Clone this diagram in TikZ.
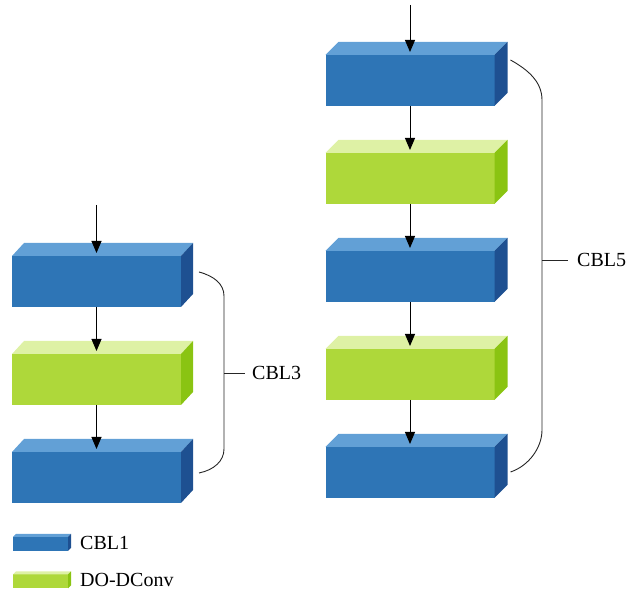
\documentclass[tikz,border=0pt]{standalone}
\usepackage{fontspec}
\setmainfont{Liberation Serif}
\usetikzlibrary{arrows.meta,calc}
\definecolor{cblfront}{RGB}{46,117,182}
\definecolor{cbltop}{RGB}{98,160,214}
\definecolor{cblside}{RGB}{30,80,145}
\definecolor{dofront}{RGB}{174,216,58}
\definecolor{dotop}{RGB}{222,241,165}
\definecolor{doside}{RGB}{138,196,18}

\tikzset{
  slab/.style={minimum width=169pt,minimum height=51pt,inner sep=0pt,outer sep=0pt,fill=#1front},
  keyslab/.style={minimum width=55pt,minimum height=14pt,inner sep=0pt,outer sep=0pt,fill=#1front},
  flow/.style={-{Triangle[length=12pt,width=10pt]},line width=1pt},
  brace/.style={line width=0.9pt,black!85},
  lbl/.style={font=\fontsize{20}{24}\selectfont,anchor=west,inner sep=0pt}
}
% top and side faces of a slab node: name, kind, dx, dy
\newcommand{\slabfaces}[4]{%
  \fill[#2top] (#1.north west) -- ++(#3,#4) -- ($(#1.north east)+(#3,#4)$) -- (#1.north east) -- cycle;
  \fill[#2side] (#1.north east) -- ++(#3,#4) -- ($(#1.south east)+(#3,#4)$) -- (#1.south east) -- cycle;
}

\begin{document}
\begin{tikzpicture}[x=1pt,y=1pt]
  \useasboundingbox (0,0) rectangle (638,594);

  % left column (CBL3)
  \foreach \i/\k in {1/cbl,2/do,3/cbl}{
    \pgfmathsetmacro{\y}{312.5-(\i-1)*98}
    \node[slab=\k] (L\i) at (96.5,\y) {};
    \slabfaces{L\i}{\k}{12}{13}
  }
  % right column (CBL5)
  \foreach \i/\k in {1/cbl,2/do,3/cbl,4/do,5/cbl}{
    \pgfmathsetmacro{\y}{513.5-(\i-1)*98}
    \node[slab=\k] (R\i) at (410,\y) {};
    \slabfaces{R\i}{\k}{13}{13}
  }

  \coordinate (inL) at (96.5,389);
  \coordinate (inR) at (410,589);
  \draw[flow] (inL) -- ($(L1.north)+(0,3)$);
  \draw[flow] (inR) -- ($(R1.north)+(0,3)$);
  \foreach \a/\b in {L1/L2,L2/L3,R1/R2,R2/R3,R3/R4,R4/R5}
    \draw[flow] (\a.south) -- ($(\b.north)+(0,3)$);

  % braces
  \draw[brace] ($(L1.east)+(18,9.5)$) .. controls +(15,-4) and +(0,12) .. (224,298)
    -- (224,145) .. controls +(0,-12) and +(15,3) .. ($(L3.east)+(18,4.5)$);
  \draw[brace] (224,221) -- (245,221);
  \node[lbl] (cbl3) at (252,221) {CBL3};

  \draw[brace] ($(R1.east)+(16,20.5)$) .. controls +(18,-10) and +(0,18) .. (542,494)
    -- (542,164) .. controls +(0,-18) and +(18,6) .. ($(R5.east)+(16,0.5)$);
  \draw[brace] (542,334) -- (568,334);
  \node[lbl] (cbl5) at (577,334) {CBL5};

  % legend
  \node[keyslab=cbl] (keyA) at (40.5,50) {};
  \slabfaces{keyA}{cbl}{3}{3}
  \node[keyslab=do] (keyB) at (40.5,12.5) {};
  \slabfaces{keyB}{do}{3}{3}
  \node[lbl] (keyAtxt) at (80,51) {CBL1};
  \node[lbl] (keyBtxt) at (80,14) {DO-DConv};
\end{tikzpicture}
\end{document}
